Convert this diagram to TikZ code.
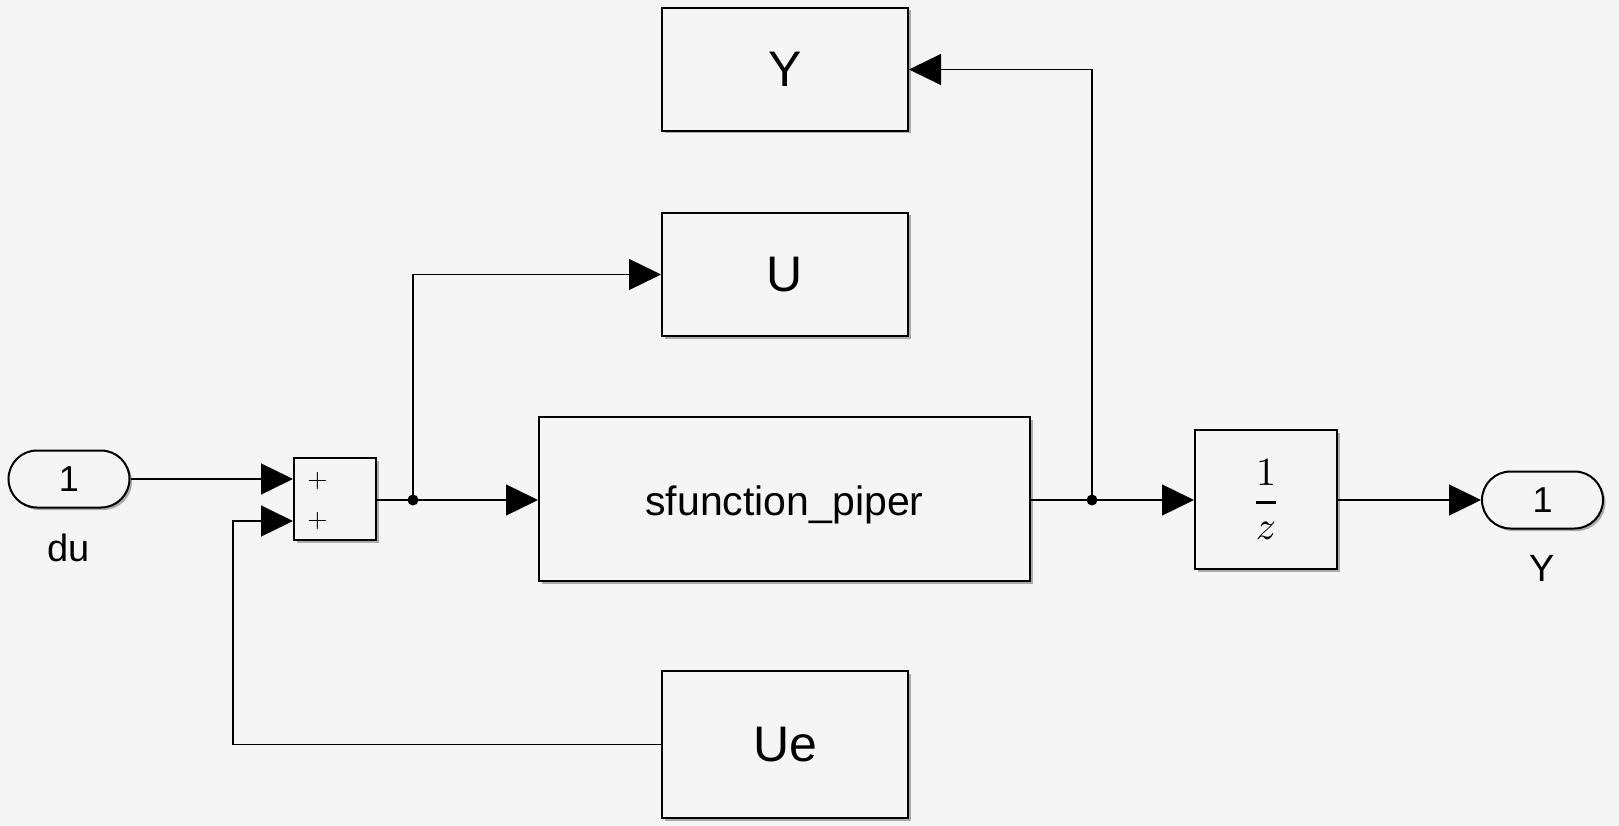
\documentclass[tikz,border=0pt]{standalone}
\usepackage{amsmath}
\usepackage{fontspec}
\usepackage{graphicx}
\setmainfont{Liberation Sans}
\usetikzlibrary{shapes.misc,shadows,arrows.meta}
\definecolor{bgc}{HTML}{F5F5F5}
\tikzset{
  blk/.style={draw=black, line width=2pt, fill=bgc, rectangle, inner sep=0pt,
    drop shadow={shadow xshift=2.5pt,shadow yshift=-2.5pt,fill=black,opacity=0.3}},
  port/.style={draw=black, line width=2pt, fill=bgc, rounded rectangle, inner sep=0pt,
    minimum width=121pt, minimum height=57pt,
    drop shadow={shadow xshift=2.5pt,shadow yshift=-2.5pt,fill=black,opacity=0.3}},
  sig/.style={line width=1.3pt, -{Triangle[length=32pt,width=31pt]}},
  wire/.style={line width=1.3pt},
  jdot/.style={circle, fill=black, inner sep=0pt, minimum size=11pt},
  bigtxt/.style={font=\fontsize{50}{60}\selectfont},
  midtxt/.style={font=\fontsize{41}{50}\selectfont},
  lbltxt/.style={font=\fontsize{38}{44}\selectfont},
  porttxt/.style={font=\fontsize{36}{42}\selectfont},
}
\begin{document}
\begin{tikzpicture}[x=1pt,y=-1pt]
\fill[bgc] (0,0) rectangle (1619,826);
\useasboundingbox (0,0) rectangle (1619,826);

\node[port, porttxt] (du) at (69,479) {1};
\node[lbltxt] (dulbl) at (69,548) {du};
\node[blk, minimum width=82pt, minimum height=82pt] (sum) at (335,499) {};
\node (p1) at (317.5,481) {\scalebox{2.6}{$+$}};
\node (p2) at (317.5,521) {\scalebox{2.6}{$+$}};

\node[blk, bigtxt, minimum width=246pt, minimum height=123pt] (Yb) at (785,69.5) {Y};
\node[blk, bigtxt, minimum width=246pt, minimum height=123pt] (Ub) at (785,274.5) {U};
\node[blk, midtxt, minimum width=491pt, minimum height=164pt, text height=32pt, text depth=0pt] (sf) at (784.5,499) {sfunction\_piper};
\node[blk, bigtxt, minimum width=246pt, minimum height=147pt] (Ue) at (785,744.5) {Ue};
\node[blk, minimum width=142pt, minimum height=139pt] (dz) at (1266,499.5) {\scalebox{4}{$\genfrac{}{}{0.7pt}{0}{1}{z}$}};
\node[port, porttxt] (outY) at (1542.5,500) {1};
\node[lbltxt] (Ylbl) at (1542,568) {Y};

\node[jdot] (j1) at (413,500) {};
\node[jdot] (j2) at (1092,500) {};
\coordinate (fb) at (233,744.5);

% du -> sum in1
\draw[sig] (du.east |- 0,479) -- (sum.west |- 0,479);
% Ue -> sum in2
\draw[sig] (Ue.west) -- (fb) |- (sum.west |- 0,521);
% sum -> sfunction
\draw[wire] (sum.east |- j1) -- (j1.center);
\draw[sig] (j1.center) -- (sf.west |- j1);
\draw[sig] (j1.center) |- (Ub.west);
% sfunction -> 1/z
\draw[wire] (sf.east |- j2) -- (j2.center);
\draw[sig] (j2.center) -- (dz.west |- j2);
\draw[sig] (j2.center) |- (Yb.east);
% 1/z -> out
\draw[sig] (dz.east |- outY) -- (outY.west);
\end{tikzpicture}
\end{document}
